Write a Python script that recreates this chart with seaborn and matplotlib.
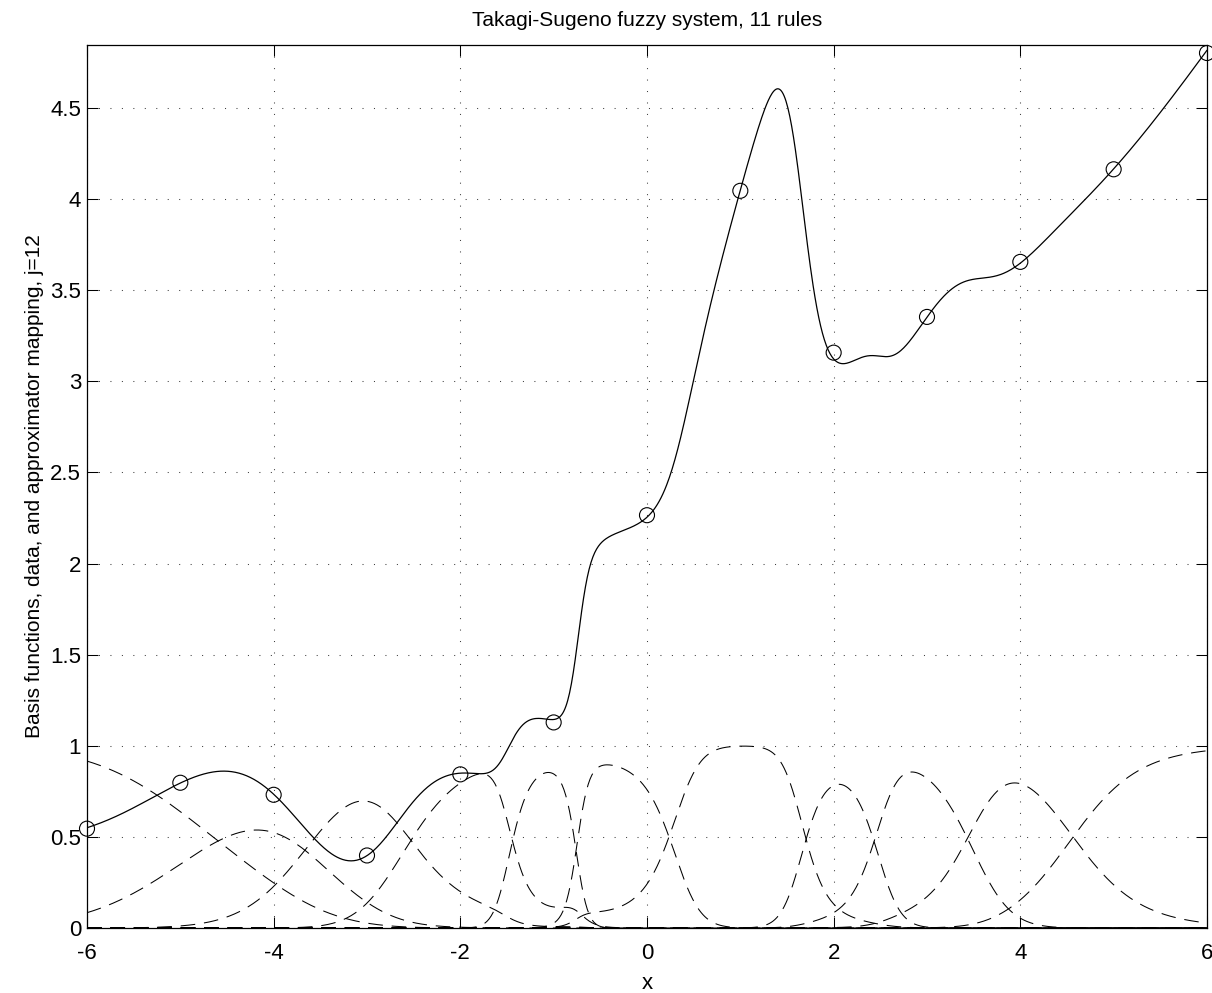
import numpy as np
import matplotlib
matplotlib.use("Agg")
import matplotlib.pyplot as plt
import seaborn as sns

# training data (input / output pairs)
data_x = [-6, -5, -4, -3, -2, -1, 0, 1, 2, 3, 4, 5, 6]
data_y = [0.545, 0.797, 0.731, 0.398, 0.843, 1.128, 2.265, 4.045, 3.157, 3.353, 3.655, 4.163, 4.801]

# Gaussian membership functions of the 11 rules
centers = [-4.992, -4.242, -3.112, -2.089, -1.174, -0.129, 0.899, 2.101, 2.960, 4.073, 5.024]
spreads = [0.779, 0.692, 0.665, 0.503, 0.207, 0.315, 0.573, 0.282, 0.448, 0.606, 0.565]

# rule consequents  g_i(x) = a_i + b_i * x
cons_a = [0.252, 0.065, 0.591, 0.351, 0.891, 2.269, 2.208, 0.158, 0.129, 0.502, 0.479]
cons_b = [-0.030, -0.296, 0.162, -0.323, -0.296, 0.087, 1.845, 1.292, 1.106, 0.785, 0.721]

x_tick_vals = [-6, -4, -2, 0, 2, 4, 6]
y_tick_vals = [0, 0.5, 1, 1.5, 2, 2.5, 3, 3.5, 4, 4.5]
y_tick_text = ["0", "0.5", "1", "1.5", "2", "2.5", "3", "3.5", "4", "4.5"]


def normalized_basis(x, c, sig):
    """Normalized Gaussian premise memberships, one column per rule."""
    c = np.asarray(c)
    sig = np.asarray(sig)
    z = -0.5 * ((np.asarray(x, float)[:, None] - c[None, :]) / sig[None, :]) ** 2
    z = z - z.max(axis=1, keepdims=True)
    g = np.exp(z)
    return g / g.sum(axis=1, keepdims=True)


sns.set_theme(style="ticks")
plt.rcParams["font.family"] = ["Liberation Sans", "DejaVu Sans"]
plt.rcParams["axes.unicode_minus"] = False
plt.rcParams["text.color"] = "black"
plt.rcParams["axes.labelcolor"] = "black"

fig = plt.figure(figsize=(12.12, 9.93), dpi=100)
ax = fig.add_axes([0.07178, 0.06546, 0.92409, 0.88922])

xs = np.linspace(-6, 6, 1201)
mu = normalized_basis(xs, centers, spreads)

# basis functions (dashed)
for i in range(len(centers)):
    sns.lineplot(x=xs, y=mu[:, i], ax=ax, color="black", lw=0.75,
                 linestyle=(0, (14, 8.5)), sort=False, estimator=None)

# Takagi-Sugeno approximator output
fx = mu @ np.asarray(cons_a) + (mu * xs[:, None]) @ np.asarray(cons_b)
sns.lineplot(x=xs, y=fx, ax=ax, color="black", lw=0.9, sort=False, estimator=None)

# data points
sns.scatterplot(x=data_x, y=data_y, ax=ax, s=117, marker="o", facecolors="none",
                edgecolor="black", linewidth=0.8, clip_on=False, zorder=5)

ax.set_xlim(-6, 6)
ax.set_ylim(0, 4.845)
ax.set_xticks(x_tick_vals)
ax.set_yticks(y_tick_vals)
ax.set_yticklabels(y_tick_text)
ax.grid(True, color="#404040", lw=0.75, linestyle=(0, (1, 10)))
for s in ax.spines.values():
    s.set_visible(True)
    s.set_linewidth(0.9)
    s.set_color("black")
ax.tick_params(direction="in", length=8, width=0.75, top=True, right=True,
               labelsize=16, colors="black")
ax.tick_params(axis="x", pad=11)
ax.tick_params(axis="y", pad=4.3)
ax.set_xlabel("x", fontsize=16, labelpad=6, color="black")
ax.set_ylabel("Basis functions, data, and approximator mapping, j=12", fontsize=15,
              labelpad=4, color="black")
ax.set_title("Takagi-Sugeno fuzzy system, 11 rules", fontsize=15, pad=14, color="black")

fig.savefig("out.png", dpi=100)
